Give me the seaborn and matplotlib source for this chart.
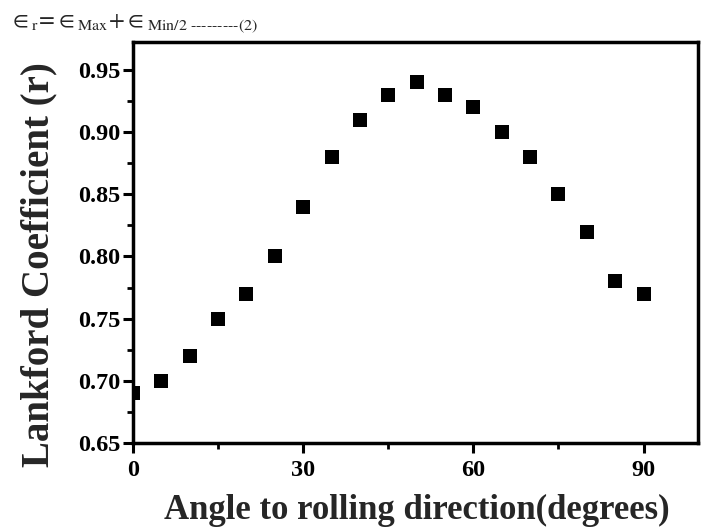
import matplotlib
matplotlib.use("Agg")
import matplotlib.pyplot as plt
import seaborn as sns
import pandas as pd
from matplotlib.ticker import MultipleLocator

angles = [0, 5, 10, 15, 20, 25, 30, 35, 40, 45, 50, 55, 60, 65, 70, 75, 80, 85, 90]
r_values = [0.69, 0.70, 0.72, 0.75, 0.77, 0.80, 0.84, 0.88, 0.91, 0.93, 0.94,
            0.93, 0.92, 0.90, 0.88, 0.85, 0.82, 0.78, 0.77]
x_ticks = [0, 30, 60, 90]
y_ticks = [0.65, 0.70, 0.75, 0.80, 0.85, 0.90, 0.95]

df = pd.DataFrame({"angle": angles, "r": r_values})

sns.set_theme(style="ticks")
plt.rcParams["font.family"] = ["Liberation Serif", "DejaVu Serif"]
plt.rcParams["mathtext.fontset"] = "stix"

fig = plt.figure(figsize=(7.02, 5.27), dpi=100)
ax = fig.add_axes([0.1895, 0.1594, 0.8048, 0.7609])

sns.scatterplot(data=df, x="angle", y="r", ax=ax, marker="s", s=90,
                color="black", edgecolor="black", linewidth=0, zorder=2)

ax.set_xlim(0, 99.6)
ax.set_ylim(0.65, 0.9725)
ax.set_xticks(x_ticks)
ax.set_yticks(y_ticks)
ax.set_xticklabels([str(t) for t in x_ticks])
ax.set_yticklabels([f"{t:.2f}" for t in y_ticks])
ax.xaxis.set_minor_locator(MultipleLocator(15))
ax.yaxis.set_minor_locator(MultipleLocator(0.025))

for sp in ax.spines.values():
    sp.set_linewidth(2.5)
    sp.set_color("black")
    sp.set_visible(True)
    sp.set_zorder(3)

ax.tick_params(axis="both", which="major", direction="out", length=7, width=2.2,
               colors="black", labelsize=17.5, pad=2)
ax.tick_params(axis="x", which="major", pad=5)
ax.tick_params(axis="both", which="minor", direction="out", length=4, width=2.0,
               colors="black")
for lab in ax.get_xticklabels() + ax.get_yticklabels():
    lab.set_fontweight("bold")

ax.set_xlabel("Angle to rolling direction(degrees)", fontsize=25, fontweight="bold")
ax.set_ylabel("Lankford Coefficient (r)", fontsize=28, fontweight="bold")
ax.xaxis.set_label_coords(0.502, -0.128)
ax.yaxis.set_label_coords(-0.133, 0.444)

fig.text(0.013, 0.951,
         r"$\in_{\mathrm{r}}\!=\!\in_{\mathrm{Max}}\!+\!\in_{\text{Min/2 ---------(2)}}$",
         fontsize=16.5, ha="left", va="baseline")

fig.savefig("out.png", dpi=100, facecolor="white")
